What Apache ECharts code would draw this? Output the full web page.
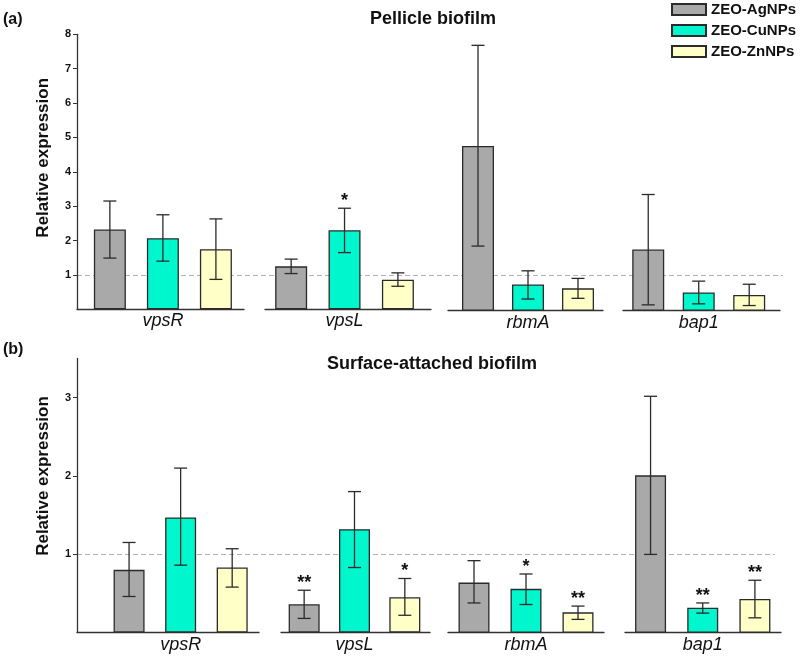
<!DOCTYPE html>
<html><head><meta charset="utf-8">
<script src="https://cdn.jsdelivr.net/npm/echarts@6/dist/echarts.min.js"></script>
<style>html,body{margin:0;padding:0;background:#fff}#c{width:800px;height:656px}</style>
</head><body><div id="c"></div>
<script>
const genes = ['vpsR', 'vpsL', 'rbmA', 'bap1'];
const treatments = ['ZEO-AgNPs', 'ZEO-CuNPs', 'ZEO-ZnNPs'];

// (a) Pellicle biofilm: mean, lower / upper error-bar ends, significance marks
const pelAg = [2.32, 1.25, 4.79, 1.78];
const pelCu = [2.07, 2.30, 0.76, 0.53];
const pelZn = [1.75, 0.86, 0.65, 0.46];
const pelAgLo = [1.49, 1.04, 1.88, 0.17];
const pelAgHi = [3.15, 1.46, 7.72, 3.38];
const pelCuLo = [1.40, 1.65, 0.34, 0.20];
const pelCuHi = [2.75, 2.94, 1.16, 0.86];
const pelZnLo = [0.87, 0.67, 0.36, 0.15];
const pelZnHi = [2.63, 1.06, 0.94, 0.77];
const pelAgSig = ['', '', '', ''];
const pelCuSig = ['', '*', '', ''];
const pelZnSig = ['', '', '', ''];

// (b) Surface-attached biofilm
const surAg = [0.80, 0.36, 0.64, 2.01];
const surCu = [1.47, 1.32, 0.56, 0.32];
const surZn = [0.83, 0.45, 0.26, 0.43];
const surAgLo = [0.46, 0.18, 0.38, 1.00];
const surAgHi = [1.15, 0.54, 0.92, 3.02];
const surCuLo = [0.86, 0.83, 0.36, 0.25];
const surCuHi = [2.10, 1.80, 0.75, 0.38];
const surZnLo = [0.58, 0.22, 0.17, 0.19];
const surZnHi = [1.07, 0.69, 0.34, 0.67];
const surAgSig = ['', '**', '', ''];
const surCuSig = ['', '', '*', '**'];
const surZnSig = ['', '*', '**', '**'];

const pelTicks = [1, 2, 3, 4, 5, 6, 7, 8];
const surTicks = [1, 2, 3];
const pelMax = 8;
const surMax = 3.5;
const refLevel = 1;

// ---------- styling / layout ----------
const FONT = "'Liberation Sans', Arial, Helvetica, sans-serif";
const COLORS = ['#a9a9a9', '#00f6cc', '#ffffc8'];
const BORDER = '#2b2b2b';

const panels = [
  {
    title: 'Pellicle biofilm', tag: '(a)',
    mean: [pelAg, pelCu, pelZn], lo: [pelAgLo, pelCuLo, pelZnLo], hi: [pelAgHi, pelCuHi, pelZnHi],
    sig: [pelAgSig, pelCuSig, pelZnSig], ticks: pelTicks, yMax: pelMax,
    top: 34.3, height: 275, lineRight: 783, barW: 32,
    titleLeft: 370, titleTop: 10, tagTop: 12, nameShift: 28,
    groups: [
      { l: 77, r: 244, min: -0.62, max: 2.53, dy: 0 },
      { l: 265, r: 431, min: -0.49, max: 2.62, dy: 0 },
      { l: 448, r: 603, min: -0.6, max: 2.5, dy: 1.4 },
      { l: 623, r: 780, min: -0.5, max: 2.61, dy: 1.4 }
    ]
  },
  {
    title: 'Surface-attached biofilm', tag: '(b)',
    mean: [surAg, surCu, surZn], lo: [surAgLo, surCuLo, surZnLo], hi: [surAgHi, surCuHi, surZnHi],
    sig: [surAgSig, surCuSig, surZnSig], ticks: surTicks, yMax: surMax,
    top: 358.5, height: 274, lineRight: 775, barW: 31,
    titleLeft: 327, titleTop: 355, tagTop: 342, nameShift: 39,
    groups: [
      { l: 77, r: 259, min: -1.01, max: 2.52, dy: 0 },
      { l: 281, r: 430, min: -0.46, max: 2.5, dy: 0 },
      { l: 448, r: 604, min: -0.5, max: 2.5, dy: 0.2 },
      { l: 625, r: 781, min: -0.49, max: 2.5, dy: 0.2 }
    ]
  }
];

const grid = [], xAxis = [], yAxis = [], series = [], title = [];

function makeErr(sigArr) {
  return function (params, api) {
    const x = api.value(0);
    const top = api.coord([x, api.value(2)]);
    const bot = api.coord([x, api.value(1)]);
    const cw = 6.5;
    const st = { stroke: '#2b2b2b', lineWidth: 1.3 };
    const ch = [
      { type: 'line', shape: { x1: top[0], y1: top[1], x2: bot[0], y2: bot[1] }, style: st },
      { type: 'line', shape: { x1: top[0] - cw, y1: top[1], x2: top[0] + cw, y2: top[1] }, style: st },
      { type: 'line', shape: { x1: bot[0] - cw, y1: bot[1], x2: bot[0] + cw, y2: bot[1] }, style: st }
    ];
    const s = sigArr[params.dataIndex];
    if (s) {
      ch.push({ type: 'text', x: top[0], y: top[1] + 2,
        style: { text: s, fontSize: 18, fontWeight: 'bold', fontFamily: FONT, fill: '#111', align: 'center', verticalAlign: 'bottom' } });
    }
    return { type: 'group', children: ch };
  };
}

panels.forEach(function (p) {
  title.push({ text: p.tag, left: 3, top: p.tagTop, padding: 0,
    textStyle: { fontSize: 16, fontWeight: 'bold', fontFamily: FONT, color: '#111' } });
  title.push({ text: p.title, left: p.titleLeft, top: p.titleTop, padding: 0,
    textStyle: { fontSize: 18, fontWeight: 'bold', fontFamily: FONT, color: '#111' } });

  // background grid carrying the dashed reference line at y = 1
  const bg = grid.length;
  grid.push({ left: 77, width: p.lineRight - 77, top: p.top, height: p.height });
  xAxis.push({ type: 'value', gridIndex: bg, min: 0, max: 1, show: false });
  const lineColors = [];
  for (let i = 0; i <= Math.ceil(p.yMax) + 1; i++) lineColors.push(i === refLevel ? '#b2b2b2' : 'rgba(0,0,0,0)');
  yAxis.push({ type: 'value', gridIndex: bg, min: 0, max: p.yMax, interval: 1,
    axisLine: { show: false }, axisTick: { show: false }, axisLabel: { show: false },
    splitLine: { show: true, lineStyle: { color: lineColors, type: [5, 3], width: 1 } } });

  p.groups.forEach(function (g, gi) {
    const idx = grid.length;
    grid.push({ left: g.l, width: g.r - g.l, top: p.top + g.dy, height: p.height });
    xAxis.push({
      type: 'value', gridIndex: idx, min: g.min, max: g.max,
      axisLine: { show: true, onZero: false, lineStyle: { color: '#333', width: 1.3 } },
      axisTick: { show: false }, splitLine: { show: false },
      axisLabel: { customValues: [1], formatter: function () { return genes[gi]; }, margin: 3,
        fontSize: 18, fontStyle: 'italic', fontFamily: FONT, color: '#111' }
    });
    const ya = { type: 'value', gridIndex: idx, min: 0, max: p.yMax, interval: 1, splitLine: { show: false } };
    if (gi === 0) {
      Object.assign(ya, {
        axisLine: { show: true, onZero: false, lineStyle: { color: '#333', width: 1.3 } },
        axisTick: { show: true, length: 4, customValues: p.ticks, lineStyle: { color: '#333' } },
        axisLabel: { customValues: p.ticks, fontSize: 11, fontWeight: 'bold', fontFamily: FONT, color: '#111', margin: 6 },
        name: 'Relative expression', nameLocation: 'middle', nameGap: 25,
        nameTextStyle: { fontSize: 17, fontWeight: 'bold', fontFamily: FONT, color: '#111', padding: [0, 0, 0, p.nameShift] }
      });
    } else {
      ya.show = false;
    }
    yAxis.push(ya);

    for (let t = 0; t < 3; t++) {
      series.push({
        type: 'bar', name: treatments[t], xAxisIndex: idx, yAxisIndex: idx,
        data: [[t, p.mean[t][gi]]], barWidth: p.barW, barGap: '-100%',
        itemStyle: { color: COLORS[t], borderColor: BORDER, borderWidth: 1.3 },
        silent: true, animation: false, z: 2
      });
    }
    const errData = [0, 1, 2].map(function (t) { return [t, p.lo[t][gi], p.hi[t][gi]]; });
    const sigArr = [0, 1, 2].map(function (t) { return p.sig[t][gi]; });
    series.push({
      type: 'custom', xAxisIndex: idx, yAxisIndex: idx, data: errData,
      renderItem: makeErr(sigArr), silent: true, animation: false, z: 3
    });
  });
});

const chart = echarts.init(document.getElementById('c'), null, { renderer: 'canvas' });
chart.setOption({
  backgroundColor: '#fff',
  animation: false,
  title: title,
  legend: {
    data: treatments, orient: 'vertical', left: 671, top: 2, padding: 0,
    itemWidth: 34, itemHeight: 11, itemGap: 6, icon: 'rect', selectedMode: false,
    textStyle: { fontSize: 15, fontWeight: 'bold', fontFamily: FONT, color: '#111' }
  },
  grid: grid, xAxis: xAxis, yAxis: yAxis, series: series
});
</script>
</body></html>
